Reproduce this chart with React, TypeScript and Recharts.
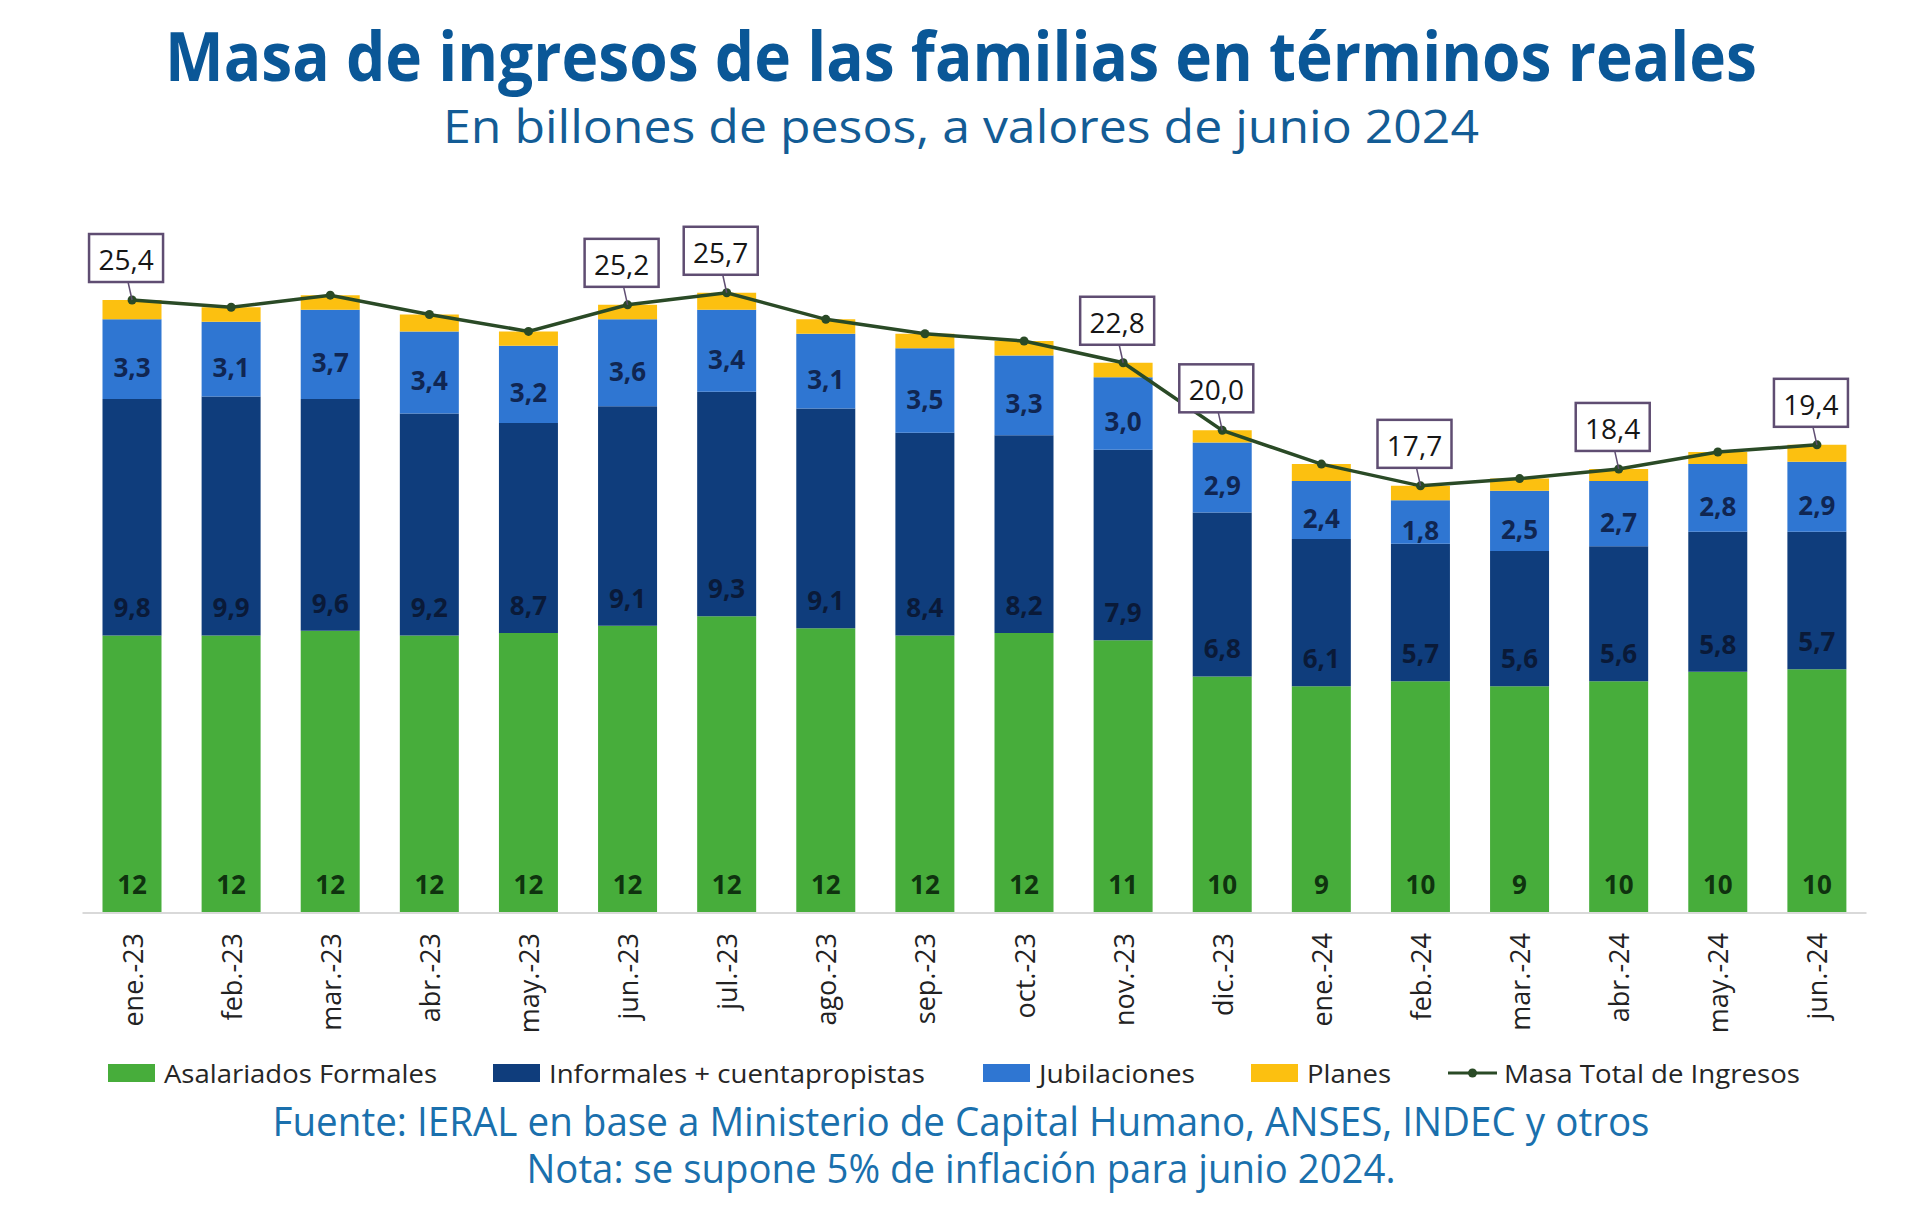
import React from 'react';
import { ComposedChart, Bar, Line, XAxis, YAxis, LabelList, Legend } from 'recharts';

const months = [
  'ene.-23', 'feb.-23', 'mar.-23', 'abr.-23', 'may.-23', 'jun.-23', 'jul.-23', 'ago.-23', 'sep.-23',
  'oct.-23', 'nov.-23', 'dic.-23', 'ene.-24', 'feb.-24', 'mar.-24', 'abr.-24', 'may.-24', 'jun.-24',
];
const formales = [11.5, 11.5, 11.7, 11.5, 11.6, 11.9, 12.3, 11.8, 11.5, 11.6, 11.3, 9.8, 9.4, 9.6, 9.4, 9.6, 10.0, 10.1];
const informales = [9.8, 9.9, 9.6, 9.2, 8.7, 9.1, 9.3, 9.1, 8.4, 8.2, 7.9, 6.8, 6.1, 5.7, 5.6, 5.6, 5.8, 5.7];
const jubilaciones = [3.3, 3.1, 3.7, 3.4, 3.2, 3.6, 3.4, 3.1, 3.5, 3.3, 3.0, 2.9, 2.4, 1.8, 2.5, 2.7, 2.8, 2.9];
const planes = [0.8, 0.6, 0.6, 0.7, 0.6, 0.6, 0.7, 0.6, 0.6, 0.6, 0.6, 0.5, 0.7, 0.6, 0.5, 0.5, 0.5, 0.7];
const totales = [25.4, 25.1, 25.6, 24.8, 24.1, 25.2, 25.7, 24.6, 24.0, 23.7, 22.8, 20.0, 18.6, 17.7, 18.0, 18.4, 19.1, 19.4];
const labeledMonths = ['ene.-23', 'jun.-23', 'jul.-23', 'nov.-23', 'dic.-23', 'feb.-24', 'abr.-24', 'jun.-24'];

const seriesNames = {
  formales: 'Asalariados Formales',
  informales: 'Informales + cuentapropistas',
  jubilaciones: 'Jubilaciones',
  planes: 'Planes',
  total: 'Masa Total de Ingresos',
};

const COLORS = {
  formales: '#47ad3b',
  informales: '#0f3d7c',
  jubilaciones: '#2f76d2',
  planes: '#fcc010',
  total: '#2a4a26',
};

const data = months.map((mes, i) => ({
  mes,
  formales: formales[i],
  informales: informales[i],
  jubilaciones: jubilaciones[i],
  planes: planes[i],
  total: totales[i],
}));

const FONT = '"Open Sans", "Noto Sans", sans-serif';
const fmt = (v: number) => Number(v).toFixed(1).replace('.', ',');

const FormalLabel = (p: any) => {
  const { x, y, width, height, value } = p;
  return (
    <text x={Number(x) + Number(width) / 2} y={Number(y) + Number(height) - 29} textAnchor="middle"
      dominantBaseline="central" fontFamily={FONT} fontWeight={700} fontSize={26} fill="#0f330f">
      {Math.round(Number(value))}
    </text>
  );
};

const InformalLabel = (p: any) => {
  const { x, y, width, height, value } = p;
  return (
    <text x={Number(x) + Number(width) / 2} y={Number(y) + Number(height) - 28} textAnchor="middle"
      dominantBaseline="central" fontFamily={FONT} fontWeight={700} fontSize={26} fill="#0a1a38">
      {fmt(value)}
    </text>
  );
};

const JubLabel = (p: any) => {
  const { x, y, width, height, value } = p;
  return (
    <text x={Number(x) + Number(width) / 2} y={Number(y) + Number(height) / 2 + 8} textAnchor="middle"
      dominantBaseline="central" fontFamily={FONT} fontWeight={700} fontSize={26} fill="#102652">
      {fmt(value)}
    </text>
  );
};

const TotalLabel = (p: any) => {
  const { x, y, value, index } = p;
  const row = data[index];
  if (!row || !labeledMonths.includes(row.mes)) return null;
  const cx = Number(x) - 6;
  const bottom = Number(y) - 18;
  const w = 74;
  const h = 48;
  return (
    <g>
      <line x1={cx + 2} y1={bottom} x2={Number(x)} y2={Number(y)} stroke="#5f4d72" strokeWidth={1.5} />
      <rect x={cx - w / 2} y={bottom - h} width={w} height={h} fill="#ffffff" stroke="#5f4d72" strokeWidth={2.5} />
      <text x={cx} y={bottom - h / 2 + 1} textAnchor="middle" dominantBaseline="central"
        fontFamily={FONT} fontSize={28} fill="#161616">
        {fmt(value)}
      </text>
    </g>
  );
};

const MonthTick = (p: any) => {
  const { x, y, payload } = p;
  return (
    <text transform={`translate(${x},${Number(y) + 12}) rotate(-90)`} textAnchor="end"
      dominantBaseline="central" fontFamily={FONT} fontSize={27} fill="#222222">
      {payload.value}
    </text>
  );
};

const legendItems = [
  { key: 'formales', x: 108, tw: 273 },
  { key: 'informales', x: 493, tw: 376 },
  { key: 'jubilaciones', x: 983, tw: 156 },
  { key: 'planes', x: 1251, tw: 84 },
  { key: 'total', x: 1448, tw: 296 },
];

const renderLegend = () => (
  <svg width={1920} height={44} style={{ display: 'block' }}>
    {legendItems.map((it) => {
      const k = it.key as keyof typeof COLORS;
      const cy = 21;
      return (
        <g key={it.key}>
          {k === 'total' ? (
            <g>
              <line x1={it.x} y1={cy} x2={it.x + 49} y2={cy} stroke={COLORS.total} strokeWidth={3} />
              <circle cx={it.x + 24.5} cy={cy} r={4.5} fill={COLORS.total} />
            </g>
          ) : (
            <rect x={it.x} y={cy - 9} width={47} height={18} fill={COLORS[k]} />
          )}
          <text x={it.x + 56} y={cy} dominantBaseline="central" fontFamily={FONT} fontSize={26}
            fill="#262626" textLength={it.tw} lengthAdjust="spacingAndGlyphs">
            {seriesNames[k]}
          </text>
        </g>
      );
    })}
  </svg>
);

export default function App() {
  return (
    <div style={{ position: 'absolute', left: 0, top: 0, width: 1920, height: 1210, background: '#ffffff', overflow: 'hidden' }}>
      <svg width={1920} height={170} style={{ position: 'absolute', left: 0, top: 0 }}>
        <text x={961} y={81} textAnchor="middle" fontFamily={FONT} fontWeight={700} fontSize={68}
          fill="#0a5797" textLength={1592} lengthAdjust="spacingAndGlyphs">
          Masa de ingresos de las familias en términos reales
        </text>
        <text x={961} y={143} textAnchor="middle" fontFamily={FONT} fontSize={46}
          fill="#135c95" textLength={1036} lengthAdjust="spacingAndGlyphs">
          En billones de pesos, a valores de junio 2024
        </text>
      </svg>
      <div style={{ position: 'absolute', left: 0, top: 0 }}>
        <ComposedChart width={1920} height={1210} data={data}
          margin={{ top: 189, right: 53.5, left: 82.5, bottom: 197 }}>
          <XAxis dataKey="mes" height={100} interval={0} tickLine={false}
            axisLine={{ stroke: '#d9d9d9', strokeWidth: 2 }} tick={<MonthTick />} />
          <YAxis hide domain={[0, 30]} />
          <Bar dataKey="formales" name={seriesNames.formales} stackId="a" fill={COLORS.formales} barSize={59} isAnimationActive={false}>
            <LabelList dataKey="formales" content={<FormalLabel />} />
          </Bar>
          <Bar dataKey="informales" name={seriesNames.informales} stackId="a" fill={COLORS.informales} barSize={59} isAnimationActive={false}>
            <LabelList dataKey="informales" content={<InformalLabel />} />
          </Bar>
          <Bar dataKey="jubilaciones" name={seriesNames.jubilaciones} stackId="a" fill={COLORS.jubilaciones} barSize={59} isAnimationActive={false}>
            <LabelList dataKey="jubilaciones" content={<JubLabel />} />
          </Bar>
          <Bar dataKey="planes" name={seriesNames.planes} stackId="a" fill={COLORS.planes} barSize={59} isAnimationActive={false} />
          <Line dataKey="total" name={seriesNames.total} type="linear" stroke={COLORS.total} strokeWidth={3.5}
            dot={{ r: 4.5, fill: COLORS.total, stroke: COLORS.total, strokeWidth: 0 }} activeDot={false} isAnimationActive={false}>
            <LabelList dataKey="total" content={<TotalLabel />} />
          </Line>
          <Legend layout="vertical" verticalAlign="middle" align="center"
            wrapperStyle={{ top: 1052, left: 0, width: 1920, height: 44 }} content={renderLegend} />
        </ComposedChart>
      </div>
      <svg width={1920} height={120} style={{ position: 'absolute', left: 0, top: 1090 }}>
        <text x={961} y={46} textAnchor="middle" fontFamily={FONT} fontSize={40}
          fill="#1a70ad" textLength={1377} lengthAdjust="spacingAndGlyphs">
          Fuente: IERAL en base a Ministerio de Capital Humano, ANSES, INDEC y otros
        </text>
        <text x={961} y={93} textAnchor="middle" fontFamily={FONT} fontSize={40}
          fill="#1a70ad" textLength={869} lengthAdjust="spacingAndGlyphs">
          Nota: se supone 5% de inflación para junio 2024.
        </text>
      </svg>
    </div>
  );
}
